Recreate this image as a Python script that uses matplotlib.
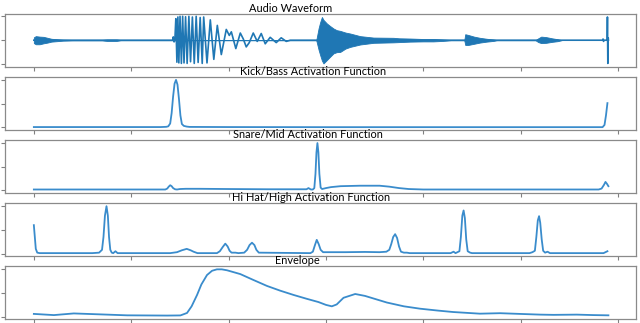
import numpy as np
import matplotlib
matplotlib.use("Agg")
import matplotlib.pyplot as plt

# x axis in arbitrary time units (ticks every 100, labels hidden in the reference)
XTICKS = [0, 100, 200, 300, 400, 500, 600]

# audio waveform: baseline, chirp-like kick burst and the final click
wave_t = [0, 142.5, 143.2, 144.0, 144.8,
          145.8, 146.9, 147.9, 148.9, 150.1, 151.5, 152.8, 154.2, 155.8, 157.4,
          159.2, 160.9, 162.8, 164.7, 166.7, 168.7, 170.8, 172.9,
          174.4, 177.8, 181.2, 184.8, 188.4, 192.5, 197.6, 200.7, 202.8, 207.4,
          212.0, 215.1, 218.1, 221.2, 225.3, 229.4, 233.5, 237.6, 242.7, 248.9,
          254.0, 259.2, 263.3,
          584.0, 584.5, 585.0, 585.5, 588.7, 589.0, 589.4, 589.8, 590.0]
wave_y = [0, 0, 0.14, -0.07, 0,
          0.9, -0.92, 0.97, -0.95, 1.0, -0.97, 1.0, -0.95, 0.98, -0.97,
          1.0, -0.9, 0.97, -0.97, 1.0, -0.93, 0.95, -0.97,
          0.97, -0.95, 0.85, -0.8, 0.62, -0.6, 0.45, 0.2, 0.35, -0.35,
          0.3, 0.05, -0.28, -0.1, 0.3, -0.05, 0.28, -0.15, 0.12, -0.1,
          0.1, -0.05, 0,
          0, 0.05, -0.05, 0, 0, 0.97, -0.97, 0.1, 0]

# envelope of the noisy parts of the waveform (upper / lower)
noise_t = [0, 2, 6, 10, 14, 18, 24, 30, 40, 70, 75, 85, 90,
           290, 292.4, 294, 295.8, 297.4, 300.9, 304, 307.7, 311, 314.6, 320,
           324.8, 335.1, 348.8, 369.3, 375, 386.3, 400, 410.2, 420, 430,
           442, 443, 446, 452, 458, 465, 472, 476,
           515, 518, 521, 526, 532, 538, 542]
noise_hi = [0.12, 0.17, 0.15, 0.14, 0.1, 0.06, 0.04, 0.02, 0.01, 0.01, 0.03, 0.03, 0,
            0, 0.5, 0.75, 0.97, 0.85, 0.7, 0.6, 0.49, 0.42, 0.39, 0.32,
            0.28, 0.17, 0.11, 0.1, 0.08, 0.07, 0.05, 0.05, 0.03, 0,
            0, 0.25, 0.22, 0.15, 0.1, 0.06, 0.03, 0,
            0, 0.08, 0.15, 0.13, 0.08, 0.04, 0]
noise_lo = [-0.12, -0.17, -0.17, -0.13, -0.1, -0.06, -0.04, -0.02, -0.01, -0.01, -0.03, -0.03, 0,
            0, -0.4, -0.62, -0.85, -0.97, -0.83, -0.7, -0.55, -0.5, -0.49, -0.35,
            -0.28, -0.18, -0.11, -0.09, -0.08, -0.06, -0.05, -0.05, -0.03, 0,
            0, -0.2, -0.2, -0.15, -0.1, -0.06, -0.03, 0,
            0, -0.08, -0.12, -0.11, -0.07, -0.04, 0]

kick_t = [0, 130, 136, 138, 140, 141.5, 143, 144.5, 146, 147.5, 149, 150.5, 152, 154, 157,
          160, 200, 300, 400, 500, 584, 586, 587.5, 589]
kick_y = [0.005, 0.005, 0.01, 0.02, 0.08, 0.3, 0.65, 0.92, 1.0, 0.9, 0.6, 0.25, 0.07, 0.03, 0.015,
          0.008, 0.005, 0.003, 0.003, 0.003, 0.003, 0.05, 0.25, 0.51]

snare_t = [0, 135, 137, 138.5, 140, 141.5, 143, 145, 147, 150, 156, 170, 200, 240, 280, 282, 284.5,
           286.5, 288, 289.2, 290.2, 291.2, 292.2, 293.2, 294.5, 296, 300, 305, 315, 335, 355,
           365, 375, 385, 400, 500, 580, 583, 585.5, 587, 588.5, 590]
snare_y = [0.02, 0.02, 0.04, 0.08, 0.11, 0.09, 0.05, 0.025, 0.02, 0.03, 0.035, 0.035, 0.03, 0.025,
           0.025, 0.05, 0.02, 0.02, 0.05, 0.35, 0.8, 1.0, 0.8, 0.35, 0.06, 0.03, 0.05, 0.07, 0.09,
           0.1, 0.1, 0.08, 0.05, 0.03, 0.02, 0.02, 0.02, 0.04, 0.12, 0.18, 0.14, 0.09]

hihat_t = [0, 1, 2, 3.5, 6, 60, 67, 70, 71.5, 73, 74.6, 76, 77.2, 78.5, 80, 81.5, 83.8, 86,
           140, 147, 152, 157, 161, 164, 168, 188, 191, 194, 196.6, 199, 201, 203, 207, 210,
           216, 219, 221.5, 224, 226.5, 228.5, 231,
           284, 286.5, 288.5, 290.5, 292.5, 294.5, 297, 320, 340, 355, 362, 365, 367, 369, 371,
           373, 375, 377, 380, 383, 386,
           428, 431, 433, 437, 438.5, 440, 441.3, 442.6, 444, 445.5, 448, 450,
           509, 512, 514.5, 516, 517.5, 518.8, 520, 521.5, 523, 525, 527.5, 530, 585, 589]
hihat_y = [0.6, 0.35, 0.1, 0.02, 0.01, 0.01, 0.02, 0.08, 0.35, 0.8, 1.0, 0.8, 0.35, 0.08, 0.02,
           0.01, 0.05, 0.01,
           0.01, 0.03, 0.07, 0.1, 0.07, 0.04, 0.01, 0.01, 0.05, 0.14, 0.21, 0.15, 0.06, 0.02,
           0.02, 0.01,
           0.02, 0.08, 0.18, 0.23, 0.18, 0.08, 0.02,
           0.01, 0.04, 0.17, 0.29, 0.2, 0.08, 0.03, 0.03, 0.035, 0.03, 0.04, 0.08, 0.2, 0.35,
           0.41, 0.33, 0.15, 0.04, 0.02, 0.02, 0.01,
           0.01, 0.04, 0.01, 0.05, 0.35, 0.8, 0.91, 0.75, 0.3, 0.05, 0.02, 0.01,
           0.01, 0.03, 0.06, 0.35, 0.7, 0.79, 0.65, 0.3, 0.06, 0.02, 0.04, 0.01, 0.01, 0.05]

env_t = [0, 20.6, 41, 68.4, 95.8, 136.8, 150.5, 157.3, 162, 167.6, 172, 177.8, 183, 188,
         193, 198.4, 212, 225, 239.4, 253, 266.7, 280, 292.3, 300, 306, 311, 318, 330,
         340, 362.5, 380, 396.6, 415, 430.5, 458, 478.8, 499, 520, 533.6, 557.5, 575, 590]
env_y = [0.06, 0.035, 0.07, 0.05, 0.03, 0.025, 0.028, 0.08, 0.22, 0.46, 0.68, 0.88, 0.97, 1.0,
         1.0, 0.98, 0.9, 0.78, 0.65, 0.55, 0.46, 0.38, 0.31, 0.25, 0.22, 0.26, 0.4, 0.48,
         0.44, 0.3, 0.22, 0.17, 0.13, 0.1, 0.065, 0.075, 0.06, 0.045, 0.04, 0.045, 0.035, 0.03]

TITLES = ["Audio Waveform", "Kick/Bass Activation Function", "Snare/Mid Activation Function",
          "Hi Hat/High Activation Function", "Envelope"]
TITLE_X = [0.453, 0.488, 0.480, 0.485, 0.463]

fig, axes = plt.subplots(5, 1, figsize=(6.4, 3.23), dpi=100)
fig.subplots_adjust(left=0.008, right=0.994, top=0.957, bottom=0.012, hspace=0.2)

blue = "#1f77b4"
axes[0].plot(wave_t, wave_y, color=blue, lw=1.2)
axes[0].fill_between(noise_t, noise_lo, noise_hi, color=blue, lw=0.6, edgecolor=blue)
axes[0].set_yticks([-1, 0, 1])

for ax, t, y in zip(axes[1:], [kick_t, snare_t, hihat_t, env_t],
                    [kick_y, snare_y, hihat_y, env_y]):
    ax.plot(t, y, color="#3a8ccc", lw=1.3)
    ax.set_yticks([0, 0.5, 1])

for ax, title, tx in zip(axes, TITLES, TITLE_X):
    ax.set_xlim(-29.5, 618.5)
    ax.set_xticks(XTICKS)
    ax.tick_params(labelbottom=False, labelleft=False, length=3, width=0.8, color="#808080")
    for s in ax.spines.values():
        s.set_color("#8a8a8a")
        s.set_linewidth(0.9)
    ax.set_title(title, x=tx, pad=1.5, fontsize=7.9, family="Lato")

axes[0].set_ylim(-1.1, 1.1)
for ax in axes[1:]:
    ax.set_ylim(-0.05, 1.06)

fig.savefig("out.png", dpi=100)
